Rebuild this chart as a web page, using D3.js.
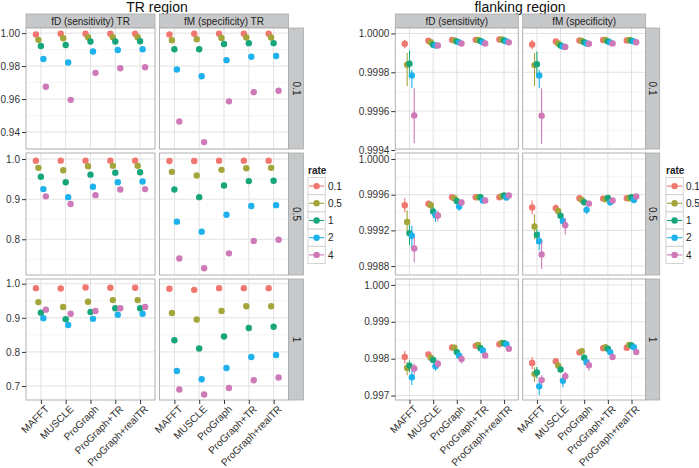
<!DOCTYPE html>
<html><head><meta charset="utf-8">
<script src="https://cdn.jsdelivr.net/npm/d3@7"></script>
<style>body{margin:0;background:#fff} text{font-family:"Liberation Sans",Arial,Helvetica,sans-serif}</style>
</head><body><svg id="c" width="699" height="468"></svg>
<script>
const categories = ["MAFFT","MUSCLE","ProGraph","ProGraph+TR","ProGraph+realTR"];
const rates = ["0.1","0.5","1","2","4"];
const rowLabels = ["0.1","0.5","1"];
const trCols = ["fD (sensitivity) TR","fM (specificity) TR"];
const flCols = ["fD (sensitivity)","fM (specificity)"];

// TR region values: rows = categories, columns = rates
const trFD_01 = [[0.9992,0.9959,0.9922,0.9843,0.9675],[0.9996,0.9969,0.9928,0.9822,0.9595],[0.9996,0.9975,0.9949,0.9888,0.9759],[0.9996,0.9975,0.9949,0.9898,0.9787],[0.9996,0.9975,0.9951,0.9902,0.9793]];
const trFM_01 = [[0.9992,0.9957,0.9902,0.9779,0.9464],[0.9996,0.9963,0.9902,0.9738,0.9339],[0.9996,0.9971,0.9934,0.9836,0.9586],[0.9996,0.9973,0.9939,0.9857,0.9642],[0.9996,0.9973,0.9939,0.9861,0.9650]];
const trFD_05 = [[0.996,0.978,0.956,0.925,0.907],[0.996,0.972,0.942,0.905,0.888],[0.996,0.982,0.961,0.931,0.910],[0.996,0.983,0.966,0.942,0.924],[0.996,0.983,0.967,0.944,0.925]];
const trFM_05 = [[0.995,0.968,0.924,0.844,0.752],[0.995,0.959,0.905,0.819,0.728],[0.996,0.973,0.934,0.861,0.765],[0.996,0.977,0.945,0.883,0.796],[0.996,0.978,0.946,0.885,0.799]];
const trFD_1 = [[0.987,0.946,0.915,0.899,0.924],[0.986,0.932,0.896,0.879,0.912],[0.989,0.947,0.917,0.897,0.920],[0.988,0.952,0.928,0.909,0.928],[0.988,0.952,0.928,0.912,0.932]];
const trFM_1 = [[0.985,0.914,0.834,0.744,0.690],[0.982,0.895,0.810,0.720,0.675],[0.987,0.920,0.845,0.753,0.694],[0.987,0.934,0.870,0.785,0.717],[0.987,0.934,0.874,0.791,0.725]];

// flanking region values, lower and upper ends
const flFD_01 = [[0.999947,0.999839,0.999844,0.999784,0.999578],[0.999962,0.999955,0.999942,0.999938,0.999938],[0.999967,0.999964,0.999959,0.999954,0.999948],[0.999967,0.999966,0.999961,0.999955,0.999948],[0.999969,0.999969,0.999964,0.999959,0.999954]];
const flFD_01lo = [[0.999924,0.999730,0.999775,0.999718,0.999435],[0.999957,0.999950,0.999937,0.999933,0.999933],[0.999963,0.999960,0.999955,0.999950,0.999944],[0.999963,0.999962,0.999957,0.999951,0.999944],[0.999965,0.999965,0.999960,0.999955,0.999950]];
const flFD_01hi = [[0.999967,0.999899,0.999912,0.999813,0.999718],[0.999967,0.999960,0.999947,0.999943,0.999943],[0.999971,0.999968,0.999963,0.999958,0.999952],[0.999971,0.999970,0.999965,0.999959,0.999952],[0.999973,0.999973,0.999968,0.999963,0.999958]];
const flFM_01 = [[0.999943,0.999837,0.999842,0.999784,0.999576],[0.999959,0.999948,0.999938,0.999933,0.999930],[0.999964,0.999961,0.999955,0.999948,0.999947],[0.999966,0.999966,0.999959,0.999954,0.999948],[0.999964,0.999966,0.999962,0.999959,0.999955]];
const flFM_01lo = [[0.999919,0.999730,0.999773,0.999718,0.999432],[0.999954,0.999943,0.999933,0.999928,0.999925],[0.999959,0.999956,0.999950,0.999943,0.999942],[0.999961,0.999961,0.999954,0.999949,0.999943],[0.999959,0.999961,0.999957,0.999954,0.999950]];
const flFM_01hi = [[0.999967,0.999899,0.999907,0.999813,0.999718],[0.999964,0.999953,0.999943,0.999938,0.999935],[0.999969,0.999966,0.999960,0.999953,0.999952],[0.999971,0.999971,0.999964,0.999959,0.999953],[0.999969,0.999971,0.999967,0.999964,0.999960]];
const flFD_05 = [[0.999482,0.999295,0.999169,0.999139,0.998997],[0.999497,0.999482,0.999411,0.999370,0.999366],[0.999571,0.999560,0.999530,0.999467,0.999512],[0.999571,0.999571,0.999571,0.999534,0.999534],[0.999571,0.999582,0.999590,0.999568,0.999590]];
const flFD_05lo = [[0.999404,0.999169,0.999038,0.999001,0.998841],[0.999457,0.999437,0.999361,0.999292,0.999299],[0.999551,0.999540,0.999497,0.999418,0.999478],[0.999556,0.999556,0.999551,0.999504,0.999509],[0.999556,0.999567,0.999570,0.999543,0.999570]];
const flFD_05hi = [[0.999560,0.999422,0.999262,0.999251,0.999124],[0.999537,0.999527,0.999461,0.999422,0.999422],[0.999591,0.999580,0.999563,0.999515,0.999548],[0.999586,0.999586,0.999591,0.999564,0.999559],[0.999586,0.999597,0.999610,0.999593,0.999610]];
const flFM_05 = [[0.999456,0.999243,0.999150,0.999079,0.998930],[0.999448,0.999418,0.999363,0.999303,0.999258],[0.999560,0.999541,0.999515,0.999430,0.999500],[0.999556,0.999549,0.999564,0.999515,0.999534],[0.999560,0.999560,0.999571,0.999541,0.999579]];
const flFM_05lo = [[0.999381,0.999102,0.999049,0.998975,0.998766],[0.999403,0.999373,0.999313,0.999253,0.999154],[0.999535,0.999516,0.999485,0.999381,0.999465],[0.999536,0.999529,0.999544,0.999480,0.999509],[0.999540,0.999540,0.999551,0.999516,0.999559]];
const flFM_05hi = [[0.999534,0.999381,0.999213,0.999187,0.999075],[0.999493,0.999463,0.999413,0.999353,0.999336],[0.999585,0.999566,0.999545,0.999474,0.999535],[0.999576,0.999569,0.999584,0.999550,0.999559],[0.999580,0.999580,0.999591,0.999566,0.999599]];
const flFD_1 = [[0.998045,0.997750,0.997813,0.997500,0.997732],[0.998116,0.998027,0.997964,0.997795,0.997866],[0.998304,0.998295,0.998179,0.998080,0.997991],[0.998348,0.998375,0.998286,0.998223,0.998089],[0.998393,0.998429,0.998420,0.998393,0.998268]];
const flFD_1lo = [[0.997866,0.997554,0.997643,0.997286,0.997580],[0.998036,0.997947,0.997884,0.997670,0.997750],[0.998244,0.998235,0.998109,0.997990,0.997866],[0.998298,0.998325,0.998226,0.998153,0.998000],[0.998353,0.998389,0.998380,0.998343,0.998198]];
const flFD_1hi = [[0.998205,0.997911,0.997955,0.997688,0.997866],[0.998196,0.998107,0.998044,0.997884,0.997973],[0.998364,0.998355,0.998249,0.998170,0.998089],[0.998398,0.998425,0.998346,0.998293,0.998170],[0.998433,0.998469,0.998460,0.998443,0.998338]];
const flFM_1 = [[0.997884,0.997589,0.997625,0.997250,0.997420],[0.997929,0.997813,0.997705,0.997402,0.997527],[0.998170,0.998205,0.998027,0.997902,0.997821],[0.998286,0.998313,0.998268,0.998179,0.998045],[0.998295,0.998375,0.998357,0.998313,0.998179]];
const flFM_1lo = [[0.997714,0.997375,0.997464,0.997018,0.997286],[0.997839,0.997723,0.997615,0.997223,0.997402],[0.998100,0.998135,0.997947,0.997812,0.997670],[0.998226,0.998253,0.998208,0.998109,0.997965],[0.998245,0.998325,0.998307,0.998253,0.998109]];
const flFM_1hi = [[0.998045,0.997777,0.997777,0.997438,0.997554],[0.998019,0.997903,0.997795,0.997554,0.997643],[0.998240,0.998275,0.998107,0.997992,0.997955],[0.998346,0.998373,0.998328,0.998249,0.998125],[0.998345,0.998425,0.998407,0.998373,0.998249]];

// y-axis tick labels per row
const trTicks = [[0.94,0.96,0.98,1.00],[0.8,0.9,1.0],[0.7,0.8,0.9,1.0]];
const flTicks = [[0.9994,0.9996,0.9998,1.0000],[0.9988,0.9992,0.9996,1.0000],[0.997,0.998,0.999,1.000]];
const trDomains = [[0.9297,1.0031],[0.711,1.015],[0.659,1.0138]];
const flDomains = [[0.999405,1.000028],[0.99870,1.000067],[0.99688,1.00016]];

const colors = ["#F0776F","#A4A53A","#17A67B","#1DB2EB","#CE7AB8"];
const svg = d3.select("#c");
const rowsY = [[28,149],[153,275],[279,400]];
const stripFill = "#C6C8CA", stripStroke = "#A8AAAC", borderCol = "#A9A9A9";

function drawChart(cfg){
  const g = svg.append("g");
  g.append("text").attr("x", cfg.titleX).attr("y", 11.5).attr("text-anchor","middle")
    .attr("font-size", 14).attr("fill","#111").text(cfg.title);
  let xRight = 0;
  cfg.cols.forEach((colName, c) => {
    const x0 = cfg.x0 + c*(cfg.pw+cfg.gap), x1 = x0 + cfg.pw;
    xRight = x1;
    g.append("rect").attr("x",x0).attr("y",14).attr("width",cfg.pw).attr("height",14)
      .attr("fill",stripFill).attr("stroke",stripStroke).attr("stroke-width",0.8);
    g.append("text").attr("x",(x0+x1)/2).attr("y",24.5).attr("text-anchor","middle")
      .attr("font-size",10).attr("fill","#222").text(colName);
    const x = d3.scalePoint().domain(categories).range([x0,x1]).padding(0.6);
    const step = x.step();
    rowsY.forEach(([y0,y1], r) => {
      const y = d3.scaleLinear().domain(cfg.domains[r]).range([y1,y0]);
      const ticks = cfg.ticks[r];
      const pg = g.append("g");
      pg.append("rect").attr("x",x0).attr("y",y0).attr("width",cfg.pw).attr("height",y1-y0).attr("fill","#fff");
      const d = ticks[1]-ticks[0];
      const minors = [ticks[0]-d/2, ...ticks.map(t=>t+d/2)].filter(v => y(v) > y0 && y(v) < y1);
      pg.selectAll(".mn").data(minors).enter().append("line")
        .attr("x1",x0).attr("x2",x1).attr("y1",d=>y(d)).attr("y2",d=>y(d))
        .attr("stroke","#F1F1F1").attr("stroke-width",0.7);
      pg.selectAll(".mj").data(ticks.filter(v=>y(v)>=y0 && y(v)<=y1)).enter().append("line")
        .attr("x1",x0).attr("x2",x1).attr("y1",d=>y(d)).attr("y2",d=>y(d))
        .attr("stroke","#E2E2E2").attr("stroke-width",1);
      pg.selectAll(".vj").data(categories).enter().append("line")
        .attr("x1",d=>x(d)).attr("x2",d=>x(d)).attr("y1",y0).attr("y2",y1)
        .attr("stroke","#E2E2E2").attr("stroke-width",1);
      const mat = cfg.vals[r][c];
      const lo = cfg.lo ? cfg.lo[r][c] : null, hi = cfg.hi ? cfg.hi[r][c] : null;
      categories.forEach((cat, ci) => {
        rates.forEach((rt, ri) => {
          const px = x(cat) + (ri-2)*0.1*step;
          if (lo) {
            pg.append("line").attr("x1",px).attr("x2",px)
              .attr("y1",y(lo[ci][ri])).attr("y2",y(hi[ci][ri]))
              .attr("stroke",colors[ri]).attr("stroke-width",1.1);
          }
          pg.append("circle").attr("cx",px).attr("cy",y(mat[ci][ri])).attr("r",3.2)
            .attr("fill",colors[ri]);
        });
      });
      pg.append("rect").attr("x",x0).attr("y",y0).attr("width",cfg.pw).attr("height",y1-y0)
        .attr("fill","none").attr("stroke",borderCol).attr("stroke-width",0.9);
      if (c === 0) {
        const ax = g.append("g").attr("transform",`translate(${x0},0)`)
          .call(d3.axisLeft(y).tickValues(ticks).tickFormat(d3.format(cfg.fmt[r])).tickSize(4).tickPadding(2));
        ax.select(".domain").remove();
        ax.selectAll("line").attr("stroke","#333");
        ax.selectAll("text").attr("font-size",10).attr("fill","#333")
          .attr("font-family",'"Liberation Sans",Arial,sans-serif');
      }
      if (r === 2) {
        const ax = g.append("g").attr("transform",`translate(0,${y1})`)
          .call(d3.axisBottom(x).tickSize(4).tickFormat(""));
        ax.select(".domain").remove();
        ax.selectAll("line").attr("stroke","#333");
        categories.forEach(cat => {
          g.append("text").attr("transform",`translate(${x(cat)+3.5},${y1+4.5}) rotate(-45)`)
            .attr("text-anchor","end").attr("dy","0.72em").attr("font-size",10.2).attr("fill","#333").text(cat);
        });
      }
    });
  });
  rowsY.forEach(([y0,y1], r) => {
    g.append("rect").attr("x",xRight).attr("y",y0).attr("width",cfg.sw).attr("height",y1-y0)
      .attr("fill",stripFill).attr("stroke",stripStroke).attr("stroke-width",0.8);
    g.append("text").attr("transform",`translate(${xRight+cfg.sw/2-3.5},${(y0+y1)/2}) rotate(90)`)
      .attr("text-anchor","middle").attr("font-size",10).attr("fill","#222").text(rowLabels[r]);
  });
  const lx = cfg.legX;
  g.append("text").attr("x",lx).attr("y",174).attr("font-size",10).attr("font-weight","bold").attr("fill","#222").text("rate");
  rates.forEach((rt, i) => {
    const ky = 177.5 + i*17.2;
    g.append("rect").attr("x",lx).attr("y",ky).attr("width",17.2).attr("height",17.2)
      .attr("fill","#fff").attr("stroke","#C9C9C9").attr("stroke-width",0.8);
    g.append("line").attr("x1",lx+1).attr("x2",lx+16.2).attr("y1",ky+8.6).attr("y2",ky+8.6)
      .attr("stroke",colors[i]).attr("stroke-width",1.1);
    g.append("circle").attr("cx",lx+8.6).attr("cy",ky+8.6).attr("r",3.2).attr("fill",colors[i]);
    g.append("text").attr("x",lx+20).attr("y",ky+12.3).attr("font-size",10).attr("fill","#222").text(rt);
  });
}

drawChart({
  title:"TR region", titleX:157, cols:trCols, x0:26, pw:129, gap:4.5, sw:15, legX:308,
  domains:trDomains, ticks:trTicks, fmt:[".2f",".1f",".1f"],
  vals:[[trFD_01,trFM_01],[trFD_05,trFM_05],[trFD_1,trFM_1]]
});
drawChart({
  title:"flanking region", titleX:520, cols:flCols, x0:395.3, pw:123, gap:4.4, sw:14, legX:666,
  domains:flDomains, ticks:flTicks, fmt:[".4f",".4f",".3f"],
  vals:[[flFD_01,flFM_01],[flFD_05,flFM_05],[flFD_1,flFM_1]],
  lo:[[flFD_01lo,flFM_01lo],[flFD_05lo,flFM_05lo],[flFD_1lo,flFM_1lo]],
  hi:[[flFD_01hi,flFM_01hi],[flFD_05hi,flFM_05hi],[flFD_1hi,flFM_1hi]]
});
</script></body></html>
